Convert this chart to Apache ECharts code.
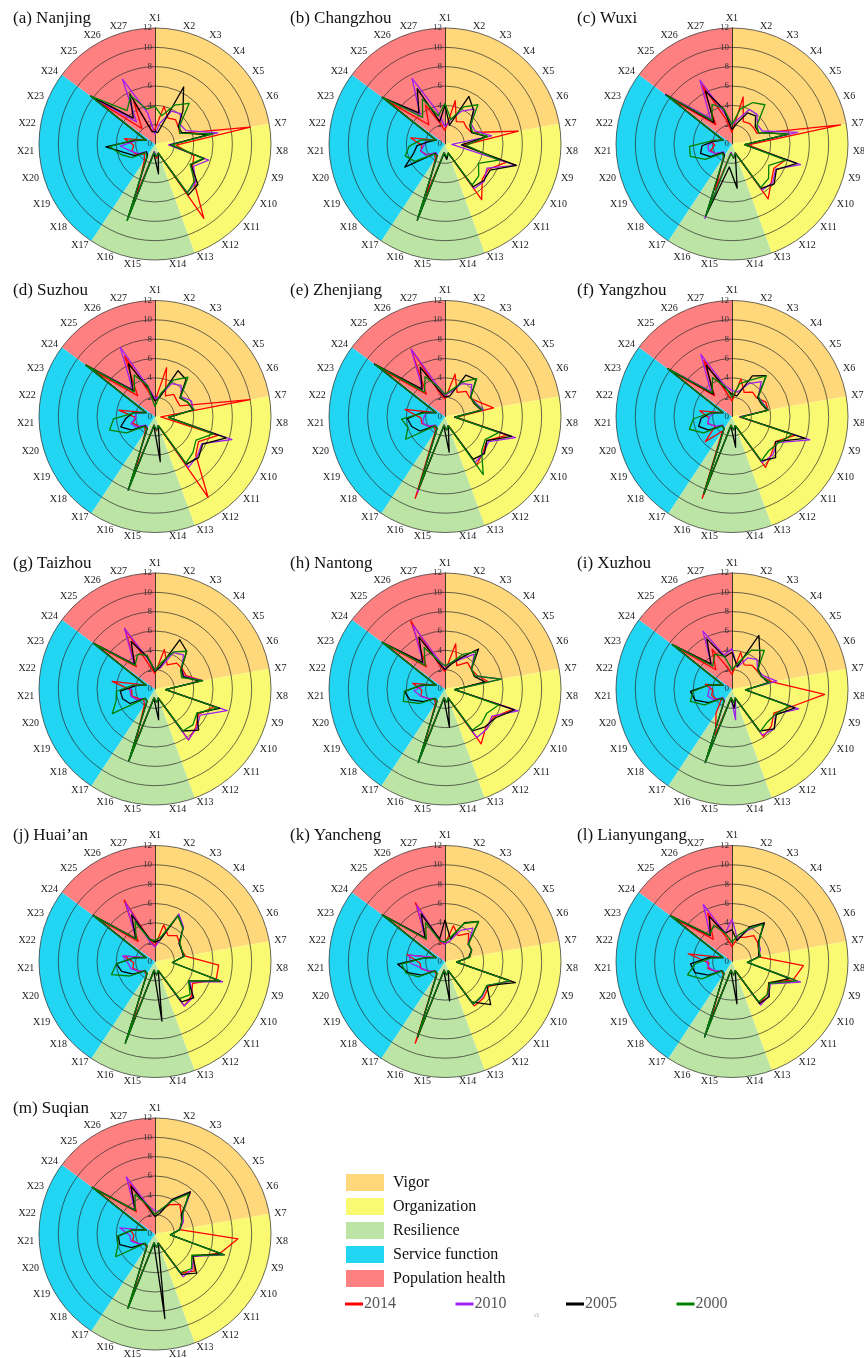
<!DOCTYPE html>
<html>
<head>
<meta charset="utf-8">
<script src="https://cdn.jsdelivr.net/npm/echarts@6/dist/echarts.min.js"></script>
<style>
html, body { margin: 0; padding: 0; background: #fff; }
#chart { width: 864px; height: 1358px; }
</style>
</head>
<body>
<div id="chart"></div>
<script>
// indicator names, years and dimension groups
const indicators = ['X1','X2','X3','X4','X5','X6','X7','X8','X9','X10','X11','X12','X13','X14','X15','X16','X17','X18','X19','X20','X21','X22','X23','X24','X25','X26','X27'];
const years = ['2014', '2010', '2005', '2000'];
const yearColors = ['#ff0000', '#a020f0', '#000000', '#008000'];
const dimensions = ['Vigor', 'Organization', 'Resilience', 'Service function', 'Population health'];
// number of indicators covered by each dimension sector (X1-X7, X7-X13, X13-X17, X17-X24, X24-X1)
const dimensionSizes = [6, 6, 4, 7, 4];
const dimColors = ['#ffd87c', '#fafa72', '#bce4a4', '#22d5f2', '#ff8080'];
const cities = ['(a) Nanjing', '(b) Changzhou', '(c) Wuxi', '(d) Suzhou', '(e) Zhenjiang', '(f) Yangzhou',
  '(g) Taizhou', '(h) Nantong', '(i) Xuzhou', "(j) Huai\u2019an", '(k) Yancheng', '(l) Lianyungang', '(m) Suqian'];

// each city: [2014, 2010, 2005, 2000], values for X1..X27
const nanjing = [
  [1.5,4.0,3.0,3.3,3.0,2.8,10.0,2.2,4.2,4.5,5.5,9.2,1.0,1.5,0.8,5.5,2.0,1.5,2.2,2.5,2.2,3.2,1.0,7.6,2.1,4.9,1.4],
  [1.0,2.2,3.8,4.1,3.3,3.5,6.6,1.4,5.8,4.6,5.8,6.0,1.0,1.2,0.8,8.1,1.4,1.2,2.0,2.6,3.6,2.0,1.0,8.3,3.0,7.5,3.3],
  [1.3,1.2,6.6,4.5,3.0,3.0,5.5,1.6,5.3,4.3,6.1,6.3,1.0,3.1,1.0,8.4,1.4,1.2,2.4,3.2,5.1,2.1,1.0,8.3,3.5,5.8,1.3],
  [3.9,3.0,4.5,5.5,3.2,2.8,6.1,1.7,5.2,4.2,5.6,6.1,1.0,1.3,0.9,8.4,1.5,1.3,2.8,3.7,4.7,2.3,1.0,8.3,4.5,5.6,3.7]
];
const changzhou = [
  [1.4,4.6,2.6,3.0,2.8,3.0,7.7,2.0,6.6,5.2,5.3,6.9,1.0,1.4,0.9,5.6,1.8,1.5,2.2,2.6,2.4,3.6,1.0,7.6,2.6,4.5,2.2],
  [1.8,2.6,3.8,4.7,3.4,3.4,4.9,0.7,7.7,5.0,5.6,5.5,1.0,1.4,0.9,8.3,1.4,1.3,2.3,2.6,2.2,2.0,1.0,8.1,4.0,7.6,3.5],
  [4.0,2.0,5.5,4.6,3.2,3.0,4.4,1.7,7.7,5.4,5.5,5.3,1.0,1.6,1.0,8.4,1.5,1.4,4.8,3.4,2.9,1.6,1.0,8.1,4.2,6.4,2.4],
  [4.2,2.6,4.3,5.3,3.3,3.1,4.5,2.2,5.8,4.0,4.8,5.1,1.0,1.3,0.9,8.3,1.5,1.5,3.6,4.3,3.7,2.5,1.0,8.1,3.6,5.2,3.0]
];
const wuxi = [
  [1.2,5.0,2.6,2.8,2.8,2.8,11.4,1.7,5.8,5.0,5.6,6.8,1.0,1.5,0.9,5.0,1.6,1.3,2.0,2.3,1.8,2.2,1.0,7.7,2.6,6.8,2.6],
  [2.0,2.6,4.0,4.0,3.3,3.4,6.9,1.3,7.4,5.2,5.8,5.7,1.0,1.4,0.9,8.2,1.4,1.2,2.0,2.5,2.5,1.8,1.0,8.6,3.5,7.4,3.2],
  [1.5,2.2,3.6,3.8,3.0,3.0,5.9,1.3,7.0,5.3,6.0,5.5,1.0,4.6,2.4,7.9,1.4,1.3,2.6,3.4,3.1,1.8,1.0,8.5,2.9,6.1,3.7],
  [2.0,3.7,4.8,5.3,3.2,3.0,5.9,1.3,5.8,4.4,5.2,5.4,1.0,1.5,1.0,7.9,1.5,1.4,3.2,4.5,4.4,2.0,1.0,8.4,3.2,4.6,3.8]
];
const suzhou = [
  [1.6,5.2,2.4,3.0,2.8,2.8,10.0,0.6,6.8,5.2,5.8,10.0,1.0,1.5,0.9,6.0,1.8,1.5,2.0,2.4,2.0,3.8,1.0,8.0,2.8,7.0,2.5],
  [1.8,2.2,3.8,4.2,3.4,4.1,4.0,1.4,8.3,5.6,6.0,6.3,1.0,1.4,0.9,8.1,1.4,1.3,2.2,2.6,2.0,2.0,1.0,8.9,3.6,8.0,3.2],
  [1.6,2.0,5.3,5.0,3.2,3.7,4.0,1.4,7.7,5.7,6.2,5.9,1.0,4.7,1.0,8.1,1.5,1.4,2.8,3.7,3.0,2.3,1.0,8.9,3.5,6.1,3.0],
  [1.0,2.4,4.2,5.3,3.3,3.7,4.1,1.4,6.3,4.9,5.4,5.8,1.0,1.4,0.9,8.1,1.5,1.5,3.4,4.9,4.3,2.2,1.0,8.9,3.3,4.8,3.3]
];
const zhenjiang = [
  [1.8,4.5,2.8,3.4,3.2,3.8,5.1,1.2,6.7,5.0,5.4,6.0,1.0,1.4,0.9,9.0,1.8,1.5,2.0,2.5,2.5,4.2,1.0,8.3,3.0,7.8,2.6],
  [2.2,2.6,3.8,4.3,3.3,3.5,4.0,1.0,7.6,5.2,5.5,5.7,1.0,1.4,0.9,8.3,1.5,1.3,2.0,2.4,2.2,2.0,1.0,9.1,3.6,7.8,3.2],
  [2.0,2.2,4.8,5.0,3.3,3.3,3.8,1.0,7.2,5.0,5.6,5.3,1.0,3.7,1.0,8.0,1.5,1.4,3.0,3.6,3.9,2.4,1.0,9.1,3.7,5.7,2.8],
  [2.3,2.8,4.0,5.1,3.3,3.4,3.9,1.1,5.8,4.8,5.2,7.2,1.0,1.4,0.9,8.0,1.5,1.4,4.7,4.0,4.5,2.2,1.0,9.0,3.3,4.6,3.2]
];
const yangzhou = [
  [1.6,4.0,2.8,3.3,3.2,3.8,3.8,0.8,6.8,5.2,5.6,6.3,1.0,1.4,0.9,9.0,1.8,3.8,2.0,2.6,2.4,3.4,1.0,8.0,2.8,6.5,2.6],
  [2.7,2.6,3.8,4.7,3.4,3.5,3.8,0.8,8.4,5.4,5.8,5.7,1.0,1.4,0.9,8.5,1.5,1.3,2.0,2.6,2.4,2.0,1.0,8.3,3.4,7.2,3.3],
  [2.3,2.2,4.7,5.5,3.3,3.3,3.7,0.9,7.9,5.2,6.2,5.5,1.0,3.2,1.0,8.5,1.5,1.4,2.8,3.6,3.2,2.2,1.0,8.3,3.0,5.9,3.0],
  [2.0,3.5,4.2,5.5,3.4,3.4,3.8,0.9,6.5,5.5,5.2,5.5,1.0,1.4,0.9,8.5,1.5,1.4,3.4,4.6,4.0,2.2,1.0,8.3,3.2,4.5,3.2]
];
const taizhou = [
  [1.6,4.2,2.8,3.5,3.5,3.5,5.0,1.1,6.4,5.2,5.8,6.3,1.0,1.4,0.9,6.0,2.0,1.6,2.0,2.5,2.4,4.5,1.0,7.6,3.0,7.0,2.5],
  [2.0,2.2,4.2,4.6,3.4,3.3,5.0,1.1,7.8,5.4,5.9,6.3,1.0,1.4,0.9,7.8,1.5,1.4,2.2,2.6,2.6,2.3,1.0,7.9,3.4,7.0,3.2],
  [1.8,2.4,5.7,5.1,3.4,3.2,4.7,1.1,7.0,5.0,6.2,5.2,1.0,3.2,1.0,7.9,1.5,1.4,3.0,3.5,3.6,2.0,1.0,7.9,3.3,5.5,3.4],
  [1.9,2.8,4.3,5.1,3.3,3.0,5.0,1.1,6.8,5.0,5.4,5.2,1.0,1.4,0.9,7.9,1.5,1.4,5.1,4.2,4.0,2.3,1.0,7.9,3.2,4.0,3.6]
];
const nantong = [
  [1.8,4.8,2.7,3.6,3.4,3.6,4.5,1.0,7.3,5.8,5.8,6.8,1.0,1.4,0.9,6.5,1.8,1.5,2.0,2.6,2.4,3.4,1.0,7.8,3.0,7.9,2.6],
  [2.0,2.8,3.4,4.7,3.4,3.4,5.9,1.0,7.9,5.6,6.0,6.0,1.0,1.4,0.9,8.0,1.5,1.4,2.0,2.6,3.2,2.2,1.0,8.1,3.5,7.4,3.2],
  [2.0,2.6,3.6,5.4,3.4,3.3,4.2,1.0,7.5,6.0,5.7,5.2,1.0,4.0,1.0,8.1,1.5,1.4,2.6,3.8,4.2,2.4,1.0,8.1,3.6,6.0,2.8],
  [2.4,2.8,4.0,5.0,3.4,3.4,5.9,1.0,5.8,5.0,5.2,5.1,1.0,1.4,0.9,8.1,1.5,1.4,3.0,4.5,4.2,2.4,1.0,8.1,3.2,4.8,3.0]
];
const xuzhou = [
  [1.5,3.9,2.8,3.2,3.2,3.3,4.2,9.6,6.4,5.0,5.6,5.9,1.0,1.4,0.9,5.0,3.0,1.5,2.0,2.2,2.0,2.8,1.0,7.4,2.6,4.6,2.4],
  [4.2,2.3,3.6,4.0,3.3,3.5,4.7,1.4,7.2,5.2,6.0,5.7,1.0,3.2,0.9,8.1,1.4,1.3,2.2,2.6,2.4,2.2,1.0,7.7,3.3,6.7,3.6],
  [3.8,2.4,6.2,4.5,3.4,3.3,3.8,1.4,6.8,5.3,6.0,5.2,1.0,2.0,1.0,8.1,1.5,1.4,2.8,4.0,4.3,2.4,1.0,7.7,3.4,5.8,3.4],
  [2.0,2.8,4.5,5.2,3.3,3.3,4.0,1.4,6.2,5.2,5.0,5.3,1.0,1.4,0.9,8.1,1.5,1.4,3.3,4.5,4.0,2.4,1.0,7.7,3.1,4.0,3.5]
];
const huaian = [
  [1.6,3.9,3.0,3.5,3.2,3.0,3.2,6.6,6.6,4.5,5.2,5.5,1.0,1.4,0.9,7.3,1.6,1.5,2.0,2.4,2.2,3.2,1.0,7.6,2.7,7.1,2.2],
  [1.5,2.3,5.5,4.6,3.1,3.0,3.0,1.8,7.3,4.2,5.4,5.5,1.0,1.4,0.9,8.8,1.5,1.4,2.0,2.6,2.8,3.4,1.0,8.0,3.0,6.8,2.0],
  [2.0,2.3,5.3,4.5,3.1,3.0,3.0,1.8,7.0,4.0,5.5,5.0,1.0,6.2,1.0,9.0,1.5,1.4,2.6,3.6,4.0,2.2,1.0,8.0,3.1,5.4,2.4],
  [2.2,2.6,5.3,4.5,3.2,3.0,3.1,1.8,7.0,4.0,5.0,4.6,1.0,1.4,0.9,9.0,1.5,1.4,3.0,4.7,4.0,2.2,1.0,8.0,3.0,4.6,2.3]
];
const yancheng = [
  [1.8,3.8,3.0,3.8,3.0,3.0,2.6,1.2,7.0,5.2,5.5,5.5,1.0,1.4,0.9,9.0,1.6,1.5,2.0,2.6,2.6,4.0,1.0,8.0,3.0,6.8,2.0],
  [1.8,2.2,3.6,4.5,3.0,3.0,2.5,1.2,7.1,5.0,5.3,5.3,1.0,1.4,0.9,8.3,1.5,1.4,2.0,2.5,3.5,3.8,1.0,8.1,3.2,6.5,2.2],
  [4.3,2.4,4.5,5.4,3.0,3.0,2.5,1.2,7.6,5.0,6.5,5.0,1.0,4.1,1.0,8.3,1.5,1.4,2.8,4.0,4.9,2.2,1.0,8.1,3.2,5.5,2.4],
  [2.0,2.6,4.4,5.4,3.0,3.0,2.6,1.2,7.0,5.0,5.2,5.3,1.0,1.4,0.9,8.3,1.5,1.4,3.2,4.2,4.5,2.2,1.0,8.1,3.0,4.5,2.2]
];
const lianyungang = [
  [1.5,2.6,2.8,3.5,3.3,3.0,2.8,7.4,6.6,4.4,5.0,5.2,1.0,1.4,0.9,6.6,1.6,1.5,2.0,2.6,2.4,4.6,1.0,7.6,3.0,5.6,2.6],
  [4.4,2.4,3.6,5.2,3.4,3.2,2.8,1.6,7.4,4.6,5.2,5.4,1.0,1.4,0.9,8.3,1.5,1.4,2.0,2.4,2.6,2.4,1.0,7.9,3.5,6.6,3.0],
  [3.3,2.2,4.0,5.2,3.4,3.0,2.8,1.6,6.2,4.4,5.3,5.2,1.0,4.4,1.0,8.3,1.5,1.4,2.8,4.0,4.3,2.4,1.0,7.9,3.5,5.2,3.0],
  [2.0,2.8,3.8,5.0,3.5,3.0,3.0,1.6,7.0,4.5,5.0,5.0,1.0,1.4,0.9,8.3,1.5,1.4,3.6,4.8,3.8,2.2,1.0,7.9,3.6,4.2,3.0]
];
const suqian = [
  [2.0,2.6,3.4,4.0,3.4,3.0,2.6,8.6,7.0,4.6,5.6,4.8,1.0,1.4,0.9,7.0,1.6,1.5,2.0,2.4,2.2,2.6,1.0,7.8,3.0,5.8,2.6],
  [2.4,2.4,4.0,5.7,3.6,3.2,2.6,1.6,7.5,4.6,5.3,5.3,1.0,1.4,0.9,8.0,1.5,1.4,2.0,2.6,2.6,3.7,1.0,8.1,3.2,6.6,3.0],
  [1.8,2.2,4.0,5.7,3.4,3.0,2.6,1.6,7.2,4.5,5.9,5.0,1.0,8.8,1.0,8.2,1.5,1.4,2.8,3.8,3.8,2.4,1.0,8.1,3.2,5.5,2.8],
  [2.0,2.6,3.8,5.4,3.6,3.0,2.6,1.6,7.5,4.4,5.2,4.8,1.0,1.4,0.9,8.2,1.5,1.4,4.7,4.0,3.9,2.4,1.0,8.1,3.2,4.6,3.0]
];
const cityData = [nanjing, changzhou, wuxi, suzhou, zhenjiang, yangzhou, taizhou, nantong, xuzhou, huaian, yancheng, lianyungang, suqian];

// layout
const colX = [155, 445, 732];
const rowY = [144, 416.5, 689, 961.5, 1234];
const titleX = [13, 290, 577];
const R = 116;
const serif = 'Liberation Serif';

// radar goes counter-clockwise, so feed X1, X27, X26 ... X2 to get a clockwise layout
const order = [0];
for (let i = 26; i >= 1; i--) order.push(i);

const radars = [];
const series = [];
const titles = [];

cities.forEach((city, k) => {
    const cx = colX[k % 3];
    const cy = rowY[Math.floor(k / 3)];
    titles.push({
        text: city, left: titleX[k % 3], top: cy - 134, padding: 0,
        textStyle: {fontFamily: serif, fontSize: 17, fontWeight: 'normal', color: '#111'}
    });
    radars.push({
        center: [cx, cy], radius: R, startAngle: 90, shape: 'circle', splitNumber: 6, z: 1,
        indicator: order.map((i, j) => j === 0
            ? {name: indicators[i], min: 0, max: 12, axisLabel: {show: true}, axisLine: {show: true}}
            : {name: indicators[i], min: 0, max: 12}),
        axisName: {color: '#1a1a1a', fontSize: 10, fontFamily: serif},
        nameGap: 5,
        splitLine: {lineStyle: {color: '#2a2a2a', width: 0.7}},
        splitArea: {show: false},
        axisLine: {show: false, lineStyle: {color: '#111', width: 0.8}},
        axisTick: {show: false},
        axisLabel: {show: false, fontSize: 9, color: '#333', fontFamily: serif, margin: 3}
    });
    series.push({
        type: 'pie', center: [cx, cy], radius: [0, R], startAngle: 90, clockwise: true,
        silent: true, z: 0, label: {show: false}, labelLine: {show: false},
        itemStyle: {borderWidth: 0},
        data: dimensions.map((d, i) => ({name: d, value: dimensionSizes[i], itemStyle: {color: dimColors[i]}}))
    });
    series.push({
        type: 'radar', radarIndex: k, symbol: 'none', z: 3, silent: true,
        data: years.map((y, j) => ({
            name: y,
            value: order.map(i => cityData[k][j][i]),
            lineStyle: {color: yearColors[j], width: 1.3},
            itemStyle: {color: yearColors[j]}
        }))
    });
});

const option = {
    animation: false,
    backgroundColor: '#fff',
    title: titles,
    radar: radars,
    legend: [
        {
            data: dimensions, orient: 'vertical', left: 346, top: 1174, padding: 0,
            itemWidth: 38, itemHeight: 17, itemGap: 7, icon: 'rect', selectedMode: false,
            textStyle: {fontFamily: serif, fontSize: 16, color: '#111', padding: [0, 0, 0, 4]}
        },
        {
            data: years, orient: 'horizontal', left: 345, top: 1296, padding: 0,
            itemWidth: 18, itemHeight: 3, itemGap: 59.5, icon: 'rect',
            textStyle: {fontFamily: serif, fontSize: 16, color: '#555', padding: [0, 0, 0, -4]}
        }
    ],
    graphic: [
        {type: 'text', left: 534, top: 1313, style: {text: 'v1', fontSize: 5, fill: '#aaa'}}
    ],
    series: series
};

const chart = echarts.init(document.getElementById('chart'));
chart.setOption(option);
</script>
</body>
</html>
